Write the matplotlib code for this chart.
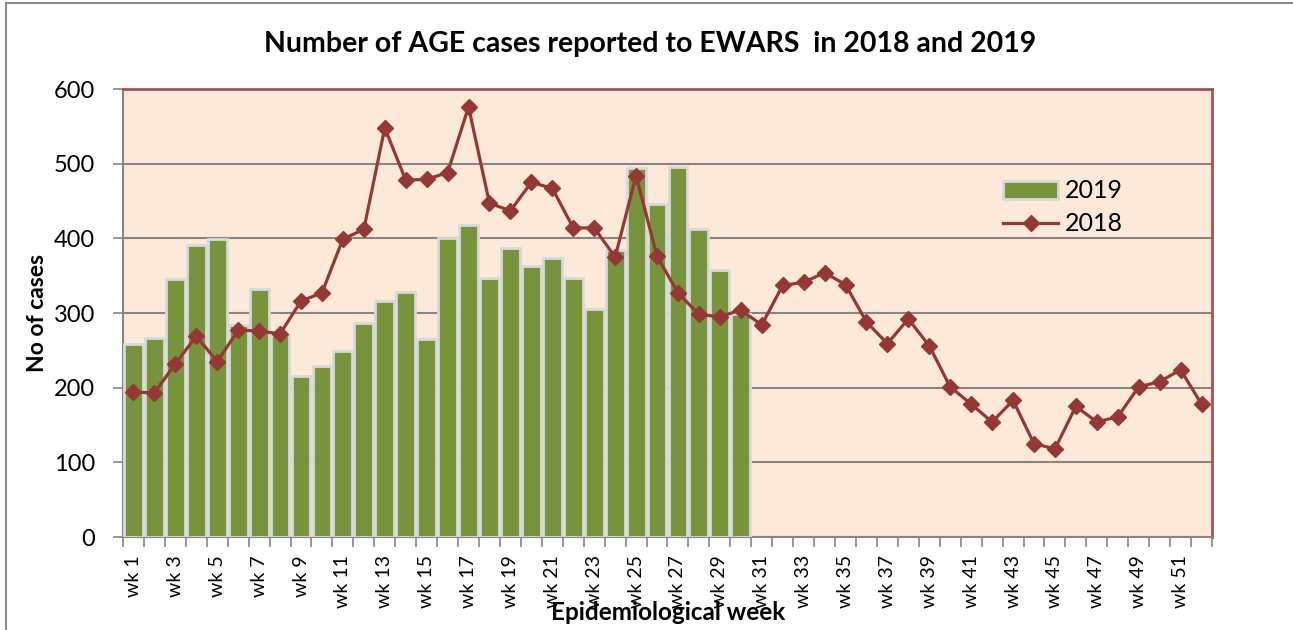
import numpy as np
import matplotlib.pyplot as plt
from matplotlib.lines import Line2D

# Data
weeks = [f"wk {i}" for i in range(1, 53)]
cases_2019 = [258, 267, 345, 391, 399, 284, 332, 271, 216, 229,
              249, 287, 316, 328, 265, 400, 418, 347, 387, 363,
              373, 347, 305, 384, 494, 446, 496, 413, 358, 298]
cases_2018 = [194, 193, 232, 269, 235, 277, 276, 272, 316, 327,
              399, 412, 548, 478, 479, 488, 576, 447, 437, 475,
              467, 414, 414, 375, 484, 376, 327, 298, 295, 304,
              284, 337, 341, 354, 338, 288, 259, 292, 256, 201,
              178, 154, 183, 125, 118, 175, 154, 161, 201, 208,
              224, 178]

BAR_GREEN = '#77933C'
LINE_RED = '#953735'
PLOT_BG = '#FDE9D9'
GRID_GREY = '#868686'

plt.rcParams['font.family'] = ['Lato', 'DejaVu Sans']

fig = plt.figure(figsize=(12.93, 6.30), dpi=100)
ax = fig.add_axes([123 / 1293, 1 - 537 / 630, (1212 - 123) / 1293, (537 - 89) / 630])
ax.set_facecolor(PLOT_BG)

x = np.arange(len(weeks))
bars = ax.bar(x[:len(cases_2019)], cases_2019, width=0.9, color=BAR_GREEN,
              edgecolor='#D9D9D9', linewidth=2.0, label='2019', zorder=3)
line, = ax.plot(x, cases_2018, color=LINE_RED, linewidth=2.3, marker='D',
                markersize=8.5, label='2018', zorder=4)

ax.set_xlim(-0.5, len(weeks) - 0.5)
ax.set_ylim(0, 600)
ax.set_yticks(range(0, 601, 100))
ax.yaxis.grid(True, color=GRID_GREY, linewidth=1.5, zorder=1)
ax.set_axisbelow(True)

# labels on every other week, tick marks on category boundaries
ax.set_xticks(x[::2])
ax.set_xticklabels(weeks[::2])
ax.set_xticks(np.arange(-0.5, len(weeks), 1), minor=True)
ax.tick_params(axis='x', which='major', length=0, pad=13, labelsize=14, labelrotation=90)
ax.tick_params(axis='x', which='minor', length=7, color=GRID_GREY, width=1.2)
ax.tick_params(axis='y', length=7, color=GRID_GREY, width=1.2, labelsize=17, pad=13)

for side in ['left', 'bottom']:
    ax.spines[side].set_color(GRID_GREY)
    ax.spines[side].set_linewidth(1.5)
for side in ['top', 'right']:
    ax.spines[side].set_color('#A65555')
    ax.spines[side].set_linewidth(2)

fig.text(650 / 1293, 1 - 44 / 630, 'Number of AGE cases reported to EWARS  in 2018 and 2019',
         ha='center', va='center', fontsize=20.5, fontweight='bold')
fig.text(37 / 1293, 1 - 313 / 630, 'No of cases', rotation=90,
         ha='center', va='center', fontsize=16.5, fontweight='bold')
fig.text(668 / 1293, 1 - 613 / 630, 'Epidemiological week',
         ha='center', va='center', fontsize=17.5, fontweight='bold')

ax.legend(handles=[bars, line], labels=['2019', '2018'],
          loc='upper left', bbox_to_anchor=(0.797, 0.826), frameon=False,
          borderpad=0, fontsize=18, handlelength=2.2, handleheight=0.75,
          handletextpad=0.25, labelspacing=0.4)

# outer chart frame (left and top edges visible)
fig.add_artist(Line2D([6 / 1293, 6 / 1293], [0, 1 - 3 / 630], color='#8C8C8C', linewidth=1.5))
fig.add_artist(Line2D([6 / 1293, 1], [1 - 3 / 630, 1 - 3 / 630], color='#8C8C8C', linewidth=1.5))

fig.savefig('out.png', dpi=100)
